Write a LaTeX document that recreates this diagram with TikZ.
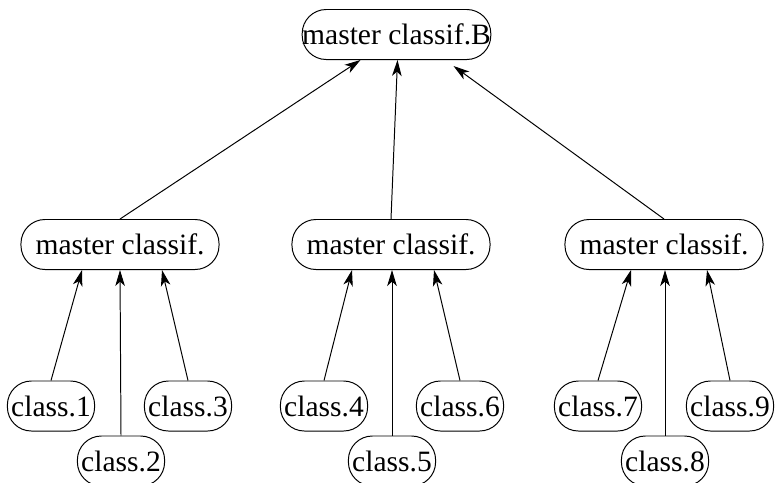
\documentclass[tikz,border=0pt]{standalone}
\usepackage{fontspec}
\setmainfont{Liberation Serif}
\usetikzlibrary{arrows.meta, calc}

\begin{document}
\begin{tikzpicture}[x=0.025cm, y=-0.025cm,
    box/.style={draw, rounded corners=0.6cm, minimum height=1.25cm, inner xsep=0pt,
                line width=0.7pt, font=\fontsize{21}{25}\selectfont},
    leaf/.style={box, minimum width=2.18cm},
    master/.style={box, minimum width=4.95cm},
    arr/.style={-{Stealth[length=0.4cm, width=0.24cm, inset=0.11cm]}, line width=0.7pt}]
  \useasboundingbox (0,0) rectangle (775,482);
  \node[box, minimum width=4.6cm] (top) at (396.5,34.5) {master classif.B};
  \node[master] (mA) at (120,244.5) {master classif.};
  \node[master] (mB) at (391,244.5) {master classif.};
  \node[master] (mC) at (664,244.5) {master classif.};
  \node[leaf] (c1) at (51,406) {class.1};
  \node[leaf] (c2) at (121,461) {class.2};
  \node[leaf] (c3) at (188,406) {class.3};
  \node[leaf] (c4) at (324,406) {class.4};
  \node[leaf] (c5) at (392,461) {class.5};
  \node[leaf] (c6) at (460,406) {class.6};
  \node[leaf] (c7) at (598,406) {class.7};
  \node[leaf] (c8) at (665,461) {class.8};
  \node[leaf] (c9) at (730,406) {class.9};
  \draw[arr] (mA.north) -- ($(top.south)+(-36,0)$);
  \draw[arr] (mB.north) -- ($(top.south)+(1,0)$);
  \draw[arr] (mC.north) -- ($(top.south)+(57,6)$);
  \draw[arr] (c1.north) -- ($(mA.south)+(-38,0)$); \draw[arr] (c2.north) -- (mA.south);
  \draw[arr] (c3.north) -- ($(mA.south)+(42,0)$);
  \draw[arr] (c4.north) -- ($(mB.south)+(-39,0)$); \draw[arr] (c5.north) -- ($(mB.south)+(1,0)$);
  \draw[arr] (c6.north) -- ($(mB.south)+(43,0)$);
  \draw[arr] (c7.north) -- ($(mC.south)+(-33,0)$); \draw[arr] (c8.north) -- ($(mC.south)+(1,0)$);
  \draw[arr] (c9.north) -- ($(mC.south)+(43,0)$);
\end{tikzpicture}
\end{document}
